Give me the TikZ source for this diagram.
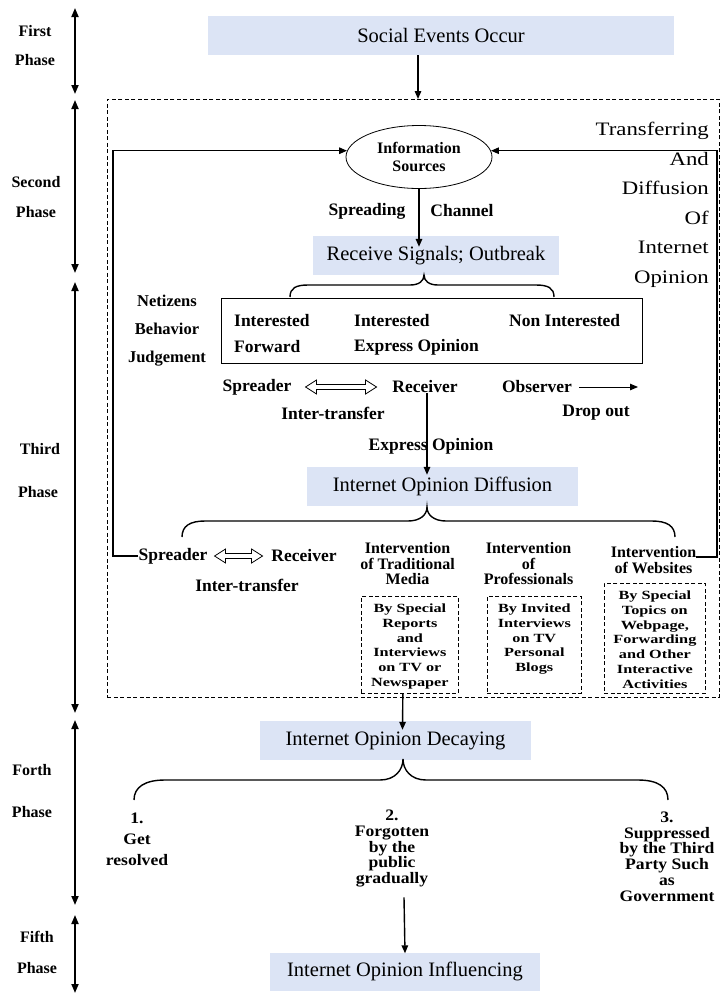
\documentclass[tikz,border=0pt]{standalone}
\usepackage{fontspec}
\setmainfont{Liberation Serif}
\newfontfamily\widefont[FakeStretch=1.2]{Liberation Serif}
\newfontfamily\sbfont[FakeStretch=1.3]{Liberation Serif}
\newfontfamily\itmfont[FakeStretch=1.1]{Liberation Serif}
\usetikzlibrary{arrows.meta,shapes.geometric,calc}
\definecolor{boxblue}{RGB}{220,228,245}
\begin{document}
\begin{tikzpicture}[x=1pt,y=-1pt,
 bbox/.style={fill=boxblue, inner sep=0, minimum height=39, font=\fontsize{20.5}{24}\selectfont},
 lbl/.style={inner sep=0, font=\fontsize{17.5}{19}\selectfont\bfseries, align=center},
 phl/.style={inner sep=0, font=\fontsize{16}{19}\selectfont\bfseries},
 arr/.style={line width=1.4pt, -{Triangle[length=8pt,width=6.5pt]}},
 phasearr/.style={line width=1.8pt, {Triangle[length=9pt,width=7pt]}-{Triangle[length=9pt,width=7pt]}},
 hollow/.style={line width=0.8pt, line join=miter, fill=white},
 brc/.style={line width=1.4pt},
 dsh/.style={draw, line width=0.7pt, dash pattern=on 4pt off 2.5pt, inner sep=0, anchor=north west},
 stext/.style={inner sep=0, align=center, anchor=north, font=\sbfont\bfseries\fontsize{12.5}{14.7}\selectfont},
 itm/.style={inner sep=0, align=center, font=\itmfont\bfseries\fontsize{16}{15.8}\selectfont}
]
\useasboundingbox (0,0) rectangle (720,994);

% phase arrows and labels
\coordinate (a1t) at (75,8);   \coordinate (a1b) at (75,94);
\coordinate (a2t) at (75,100); \coordinate (a2b) at (75,273);
\coordinate (a3t) at (75,282); \coordinate (a3b) at (75,713);
\coordinate (a4t) at (75,720); \coordinate (a4b) at (75,905);
\coordinate (a5t) at (75,915); \coordinate (a5b) at (75,993);
\draw[phasearr] (a1t) -- (a1b);
\draw[phasearr] (a2t) -- (a2b);
\draw[phasearr] (a3t) -- (a3b);
\draw[phasearr] (a4t) -- (a4b);
\draw[phasearr] (a5t) -- (a5b);
\node[phl] (p1a) at (35,31) {First};
\node[phl] (p1b) at (35,60) {Phase};
\node[phl] (p2a) at (36,182) {Second};
\node[phl] (p2b) at (36,212) {Phase};
\node[phl] (p3a) at (40,449) {Third};
\node[phl] (p3b) at (38,492) {Phase};
\node[phl] (p4a) at (32,770) {Forth};
\node[phl] (p4b) at (32,812) {Phase};
\node[phl] (p5a) at (37,937) {Fifth};
\node[phl] (p5b) at (37,968) {Phase};

% first phase
\node[bbox, minimum width=466] (social) at (441,35.5) {Social Events Occur};

% dashed region
\node[dsh, minimum width=612, minimum height=598] (region) at (107,99) {};
\draw[arr] (social.south -| 418,0) -- (region.north -| 418,0);

% transferring text
\node[inner sep=0, anchor=north east, align=right,
      font=\widefont\fontsize{19}{29.6}\selectfont] (trans) at (709,122)
  {Transferring\\And\\Diffusion\\Of\\Internet\\Opinion};

% second phase
\node[ellipse, draw, line width=0.8pt, minimum width=146, minimum height=63, inner sep=0,
      lbl, font=\fontsize{16}{18}\selectfont\bfseries] (info) at (419,157) {Information\\Sources};
\node[lbl] (spr) at (367,211) {Spreading};
\node[lbl] (chan) at (462,211) {Channel};
\node[bbox, minimum width=246] (recv) at (436,255.5) {Receive Signals; Outbreak};
\draw[arr] (info.south) -- ($(info.south |- recv.north)+(0,11)$);

% brace 1
\draw[brc] (290,297) .. controls (290,288) and (296,285) .. (308,285) -- (410,285)
  .. controls (419,285) and (424,281) .. (424,275)
  .. controls (424,281) and (429,285) .. (438,285) -- (536,285)
  .. controls (548,285) and (554,288) .. (554,297);

% judgement box
\node[draw, line width=1pt, inner sep=0, anchor=north west, minimum width=421, minimum height=65] (judge) at (221,298) {};
\node[lbl, anchor=west] (i1) at (234,321) {Interested};
\node[lbl, anchor=west] (i2) at (354,321) {Interested};
\node[lbl, anchor=west] (i3) at (509,321) {Non Interested};
\node[lbl, anchor=west] (f1) at (234,347) {Forward};
\node[lbl, anchor=west] (f2) at (354,347) {Express Opinion};
\node[lbl, font=\fontsize{16.5}{28}\selectfont\bfseries] (netz) at (167,331) {Netizens\\Behavior\\Judgement};

% row 1
\node[lbl] (sp1) at (257,387) {Spreader};
\node[lbl] (recv1) at (425,387) {Receiver};
\node[lbl] (obs) at (537,387) {Observer};
\coordinate (dropend) at (638,387);
\draw[hollow] ($(sp1.east)+(14,0)$) -- ++(11,-7) -- ++(0,4.5) -- ++(49,0) -- ++(0,-4.5)
  -- ++(11,7) -- ++(-11,7) -- ++(0,-4.5) -- ++(-49,0) -- ++(0,4.5) -- cycle;
\draw[line width=1pt, -{Triangle[length=8pt,width=6.5pt]}, shorten <=7pt] (obs.east) -- (dropend);
\node[lbl] (it1) at (333,413) {Inter-transfer};
\node[lbl] (drop) at (596,413) {Drop out};
\node[lbl] (expr) at (431,446) {Express Opinion};

% third phase
\node[bbox, minimum width=271] (diff) at (442.5,486.5) {Internet Opinion Diffusion};
\draw[arr] ([xshift=2pt]recv1.south) -- ($(recv1.south |- diff.north)+(2,8)$);

% brace 2
\draw[brc] (182,537) .. controls (182,526) and (190,521) .. (205,521) -- (408,521)
  .. controls (420,521) and (427,515) .. (427,507)
  .. controls (427,515) and (434,521) .. (446,521) -- (652,521)
  .. controls (667,521) and (675,526) .. (675,537);

\node[lbl] (sp2) at (173,556) {Spreader};
\node[lbl] (recv2) at (304,556) {Receiver};
\draw[hollow] ($(sp2.east)+(7,0)$) -- ++(11,-7) -- ++(0,4.5) -- ++(26,0) -- ++(0,-4.5)
  -- ++(11,7) -- ++(-11,7) -- ++(0,-4.5) -- ++(-26,0) -- ++(0,4.5) -- cycle;
\node[lbl] (it2) at (247,585) {Inter-transfer};

\node[lbl, font=\fontsize{16}{15.5}\selectfont\bfseries] (media) at (407.5,564) {Intervention\\of Traditional\\Media};
\node[lbl, font=\fontsize{16}{15.5}\selectfont\bfseries] (prof) at (528.5,564) {Intervention\\of\\Professionals};
\node[lbl, font=\fontsize{16}{15.5}\selectfont\bfseries] (web) at (653.5,560) {Intervention\\of Websites};

\node[dsh, minimum width=97, minimum height=97] (b1) at (361,596) {};
\node[dsh, minimum width=94, minimum height=97] (b2) at (487,596) {};
\node[dsh, minimum width=101, minimum height=110] (b3) at (604,583) {};
\node[stext] (b1t) at ($(b1.north)+(0,8)$) {By Special\\Reports\\and\\Interviews\\on TV or\\Newspaper};
\node[stext] (b2t) at ($(b2.north)+(0,8)$) {By Invited\\Interviews\\on TV\\Personal\\Blogs};
\node[stext] (b3t) at ($(b3.north)+(0,8)$) {By Special\\Topics on\\Webpage,\\Forwarding\\and Other\\Interactive\\Activities};

% feedback loops
\coordinate (lc) at (113,556);
\coordinate (rc) at (717,557);
\draw[arr] (sp2.west) -- (lc) |- (info.175);
\draw[arr] (web.east |- rc) -- (rc) |- (info.5);

% fourth phase
\node[bbox, minimum width=271] (decay) at (395.5,740.5) {Internet Opinion Decaying};
\draw[arr] ([xshift=-7pt]b1.south) -- ([xshift=7pt,yshift=-9pt]decay.north);

% brace 3
\draw[brc] (134,800) .. controls (134,787) and (145,780) .. (165,780) -- (380,780)
  .. controls (395,780) and (403,770) .. (403,759)
  .. controls (403,770) and (411,780) .. (426,780) -- (638,780)
  .. controls (658,780) and (668,787) .. (668,800);

\node[itm, font=\itmfont\bfseries\fontsize{16}{21}\selectfont] (item1) at (137,839) {1.\\Get\\resolved};
\node[itm] (item2) at (392,848.5) {2.\\Forgotten\\by the\\public\\gradually};
\node[itm] (item3) at (667,856.5) {3.\\Suppressed\\by the Third\\Party Such\\as\\Government};

% fifth phase
\node[bbox, minimum width=270, minimum height=38] (infl) at (405,971.5) {Internet Opinion Influencing};
\draw[arr] ($(item2.south)+(12,10)$) -- ($(infl.north)+(0,1)$);
\end{tikzpicture}
\end{document}
